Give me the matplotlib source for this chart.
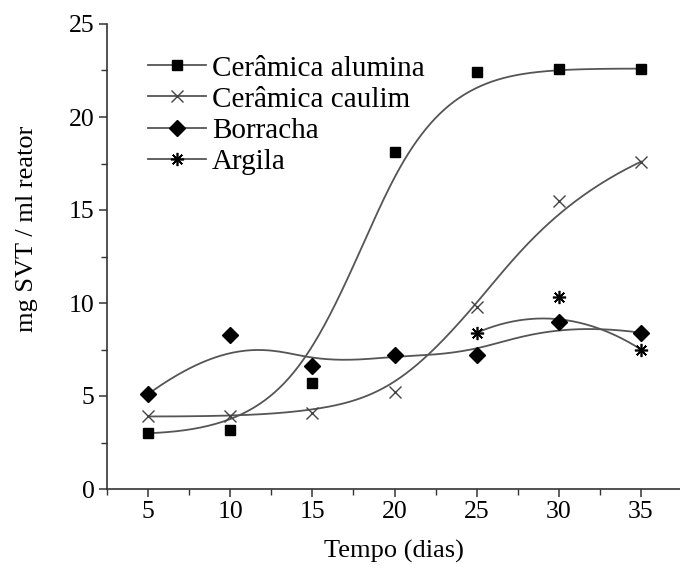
import numpy as np
import matplotlib
matplotlib.use("Agg")
import matplotlib.pyplot as plt
from matplotlib.ticker import MultipleLocator

plt.rcParams['font.family'] = ['Liberation Serif', 'DejaVu Serif']

tempo = [5, 10, 15, 20, 25, 30, 35]
alumina = [3.0, 3.15, 5.7, 18.1, 22.4, 22.6, 22.6]
caulim = [3.9, 3.9, 4.1, 5.2, 9.8, 15.5, 17.6]
borracha = [5.1, 8.3, 6.6, 7.2, 7.2, 9.0, 8.4]
tempo_argila = [25, 30, 35]
argila = [8.4, 10.3, 7.5]

labels = ["Cerâmica alumina", "Cerâmica caulim", "Borracha", "Argila"]


def bspline(xs, ys, n=300):
    """Clamped uniform B-spline using the data points as control points."""
    P = np.column_stack([xs, ys]).astype(float)
    m = len(P)
    k = min(3, m - 1)
    nseg = m - k
    knots = np.concatenate([np.zeros(k), np.arange(nseg + 1), np.full(k, nseg)]).astype(float)
    t = np.linspace(0, nseg, n)
    t[-1] = nseg - 1e-9

    def basis(i, d, tt):
        if d == 0:
            return ((knots[i] <= tt) & (tt < knots[i + 1])).astype(float)
        out = np.zeros_like(tt)
        den1 = knots[i + d] - knots[i]
        den2 = knots[i + d + 1] - knots[i + 1]
        if den1 > 0:
            out += (tt - knots[i]) / den1 * basis(i, d - 1, tt)
        if den2 > 0:
            out += (knots[i + d + 1] - tt) / den2 * basis(i + 1, d - 1, tt)
        return out

    B = np.array([basis(i, k, t) for i in range(m)])
    C = B.T @ P
    return C[:, 0], C[:, 1]


fig = plt.figure(figsize=(6.8, 5.69), dpi=100)
ax = fig.add_axes([107 / 680, 80 / 569, 573 / 680, 465 / 569])

line_col = '#555555'
star = (8, 2, 0)
series = [
    (tempo, alumina, 's', 7.8, 'black', 'black', 1.0),
    (tempo, caulim, 'x', 8.0, '#444444', '#444444', 1.0),
    (tempo, borracha, 'D', 8.0, 'black', 'black', 1.0),
    (tempo_argila, argila, star, 9.5, 'black', 'black', 1.2),
]
handles = []
for (xs, ys, mk, ms, mfc, mec, mew), lab in zip(series, labels):
    cx, cy = bspline(xs, ys)
    ax.plot(cx, cy, color=line_col, lw=1.3, zorder=2)
    ax.plot(xs, ys, linestyle='none', marker=mk, ms=ms, mfc=mfc,
            mec=mec, mew=mew, zorder=3)
    h, = ax.plot([], [], color=line_col, lw=1.3, marker=mk, ms=ms,
                 mfc=mfc, mec=mec, mew=mew)
    handles.append(h)

ax.set_xlim(2.5, 37.37)
ax.set_ylim(0, 25)
ax.xaxis.set_minor_locator(MultipleLocator(2.5))
ax.yaxis.set_major_locator(MultipleLocator(5))
ax.yaxis.set_minor_locator(MultipleLocator(2.5))
ax.set_xticks(tempo)
for s in ['top', 'right']:
    ax.spines[s].set_visible(False)
for s in ['left', 'bottom']:
    ax.spines[s].set_color('#333333')
    ax.spines[s].set_linewidth(1.2)
ax.tick_params(which='major', direction='out', length=6, width=1.1, colors='#333333',
               labelsize=18.5, labelcolor='black', pad=3)
ax.tick_params(which='minor', direction='out', length=4, width=1.0, colors='#333333')

ax.set_xlabel("Tempo (dias)", fontsize=19, labelpad=12)
fig.text(27 / 680, 1 - 229 / 569, "mg SVT / ml reator", fontsize=19, rotation=90,
         ha='center', va='center')

ax.legend(handles, labels, loc='upper left', bbox_to_anchor=(0.051, 0.958), frameon=False,
          fontsize=21, handlelength=2.0, handletextpad=0.2, labelspacing=0.16,
          borderaxespad=0)

fig.savefig("out.png", dpi=100)
